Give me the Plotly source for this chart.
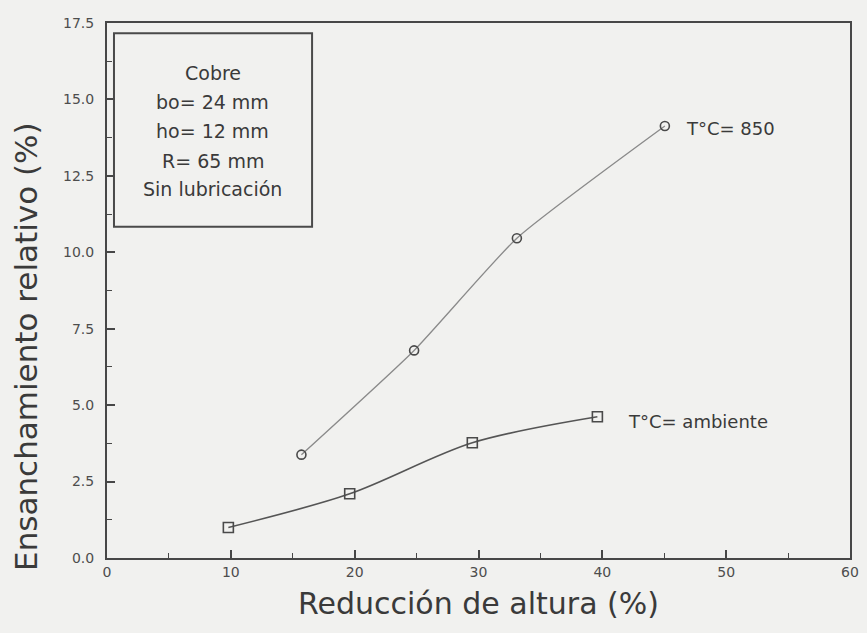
import plotly.graph_objects as go

# Data
amb_x = [9.8, 19.6, 29.5, 39.6]
amb_y = [1.0, 2.1, 3.77, 4.62]
hot_x = [15.7, 24.8, 33.1, 45.05]
hot_y = [3.38, 6.79, 10.46, 14.13]

x_ticks = [0, 10, 20, 30, 40, 50, 60]
y_ticks = [0, 2.5, 5.0, 7.5, 10.0, 12.5, 15.0, 17.5]

info_lines = ["Cobre", "bo= 24 mm", "ho= 12 mm", "R= 65 mm", "Sin lubricación"]
label_hot = "T°C= 850"
label_amb = "T°C= ambiente"
x_title = "Reducción de altura (%)"
y_title = "Ensanchamiento relativo (%)"

FONT = "DejaVu Sans"
BG = "#f1f1ef"
AX = "#474747"
TXT = "#3a3a3a"

fig = go.Figure()
fig.add_trace(go.Scatter(
    x=hot_x, y=hot_y, mode="lines+markers",
    line=dict(color="#8a8a8a", width=1.3, shape="spline", smoothing=0.5),
    marker=dict(symbol="circle-open", size=9, color="#4a4a4a", line=dict(width=1.6)),
    showlegend=False, hoverinfo="skip"))
fig.add_trace(go.Scatter(
    x=amb_x, y=amb_y, mode="lines+markers",
    line=dict(color="#555555", width=1.6, shape="spline", smoothing=0.9),
    marker=dict(symbol="square-open", size=10, color="#4a4a4a", line=dict(width=1.6)),
    showlegend=False, hoverinfo="skip"))

# Curve labels
fig.add_annotation(x=hot_x[-1], y=hot_y[-1], text=label_hot, showarrow=False,
                   xanchor="left", yanchor="middle", xshift=19, yshift=-2,
                   font=dict(family=FONT, size=18, color=TXT))
fig.add_annotation(x=amb_x[-1], y=amb_y[-1], text=label_amb, showarrow=False,
                   xanchor="left", yanchor="middle", xshift=29, yshift=-5,
                   font=dict(family=FONT, size=18, color=TXT))

# Info box
fig.add_shape(type="rect", xref="paper", yref="paper",
              x0=0.0094, x1=0.276, y0=0.619, y1=0.981,
              line=dict(color="#4a4a4a", width=2), fillcolor="rgba(0,0,0,0)")
line_y = [0.9065, 0.852, 0.798, 0.742, 0.690]
for t, yy in zip(info_lines, line_y):
    fig.add_annotation(xref="paper", yref="paper", x=0.142, y=yy, text=t,
                       showarrow=False, xanchor="center", yanchor="middle",
                       font=dict(family=FONT, size=19, color=TXT))

# Y-axis title (placed as rotated text, as in the original it sits below centre)
fig.add_annotation(xref="paper", yref="paper", x=-0.110, y=0.395, text=y_title,
                   showarrow=False, textangle=-90, xanchor="center", yanchor="middle",
                   font=dict(family=FONT, size=31, color=TXT))

axis_common = dict(
    showline=True, linecolor=AX, linewidth=2, mirror=True,
    ticks="inside", ticklen=8, tickwidth=1.5, tickcolor=AX,
    showgrid=False, zeroline=False,
    tickfont=dict(family=FONT, size=14, color="#4d4d4d"),
)

fig.update_xaxes(range=[0, 60], tickvals=x_ticks, ticktext=[str(v) for v in x_ticks],
                 minor=dict(ticks="inside", ticklen=5, tickwidth=1.2, tickcolor=AX, dtick=5, tick0=0),
                 title=dict(text=x_title, standoff=14,
                            font=dict(family=FONT, size=30, color=TXT)),
                 **axis_common)
fig.update_yaxes(range=[0, 17.5], tickvals=y_ticks, ticktext=[f"{v:.1f}" for v in y_ticks],
                 minor=dict(ticks="inside", ticklen=5, tickwidth=1.2, tickcolor=AX, dtick=1.25, tick0=0),
                 ticklabelstandoff=8,
                 **axis_common)

fig.update_layout(width=867, height=633,
                  margin=dict(l=107, r=8, t=23, b=75, pad=0),
                  paper_bgcolor=BG, plot_bgcolor=BG)

fig.write_html("out.html")
